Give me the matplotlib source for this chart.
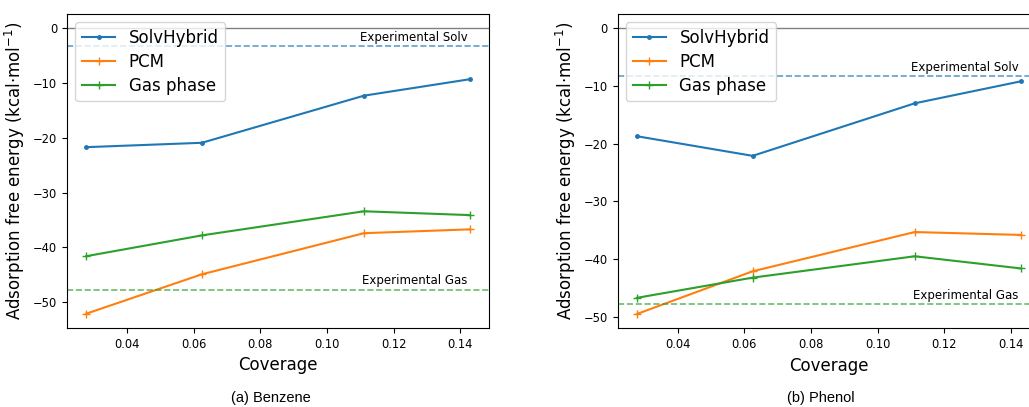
import matplotlib
matplotlib.use("Agg")
import matplotlib.pyplot as plt

# coverage (1/36, 1/16, 1/9, 1/7)
coverage = [1 / 36, 1 / 16, 1 / 9, 1 / 7]

benzene_solvhybrid = [-21.7, -20.9, -12.3, -9.3]
benzene_pcm = [-52.1, -44.9, -37.4, -36.7]
benzene_gas = [-41.6, -37.8, -33.4, -34.1]
benzene_exp_solv = -3.3
benzene_exp_gas = -47.7

phenol_solvhybrid = [-18.7, -22.1, -13.0, -9.2]
phenol_pcm = [-49.5, -42.1, -35.3, -35.8]
phenol_gas = [-46.7, -43.2, -39.5, -41.6]
phenol_exp_solv = -8.3
phenol_exp_gas = -47.8

captions = ["(a) Benzene", "(b) Phenol"]

fig = plt.figure(figsize=(10.29, 4.07), dpi=100)
ax_a = fig.add_axes([0.0651, 0.1941, 0.4101, 0.7715])
ax_b = fig.add_axes([0.6003, 0.1934, 0.4101, 0.7722])


def draw(ax, solv, pcm, gas, exp_solv, exp_gas):
    ax.axhline(0, color="grey", lw=1)
    ax.plot(coverage, solv, marker=".", ms=5, color="C0", lw=1.5, label="SolvHybrid")
    ax.plot(coverage, pcm, marker="+", ms=6, color="C1", lw=1.5, label="PCM")
    ax.plot(coverage, gas, marker="+", ms=6, color="C2", lw=1.5, label="Gas phase")
    ax.axhline(exp_solv, color="C0", ls="--", lw=1.2, alpha=0.7)
    ax.axhline(exp_gas, color="C2", ls="--", lw=1.2, alpha=0.7)
    ax.text(coverage[-1] - 0.0006, exp_solv + 0.4, "Experimental Solv",
            ha="right", va="bottom", fontsize=8.5)
    ax.text(coverage[-1] - 0.0006, exp_gas + 0.4, "Experimental Gas",
            ha="right", va="bottom", fontsize=8.5)
    ax.set_xlabel("Coverage", fontsize=12)
    ax.set_ylabel(r"Adsorption free energy (kcal$\cdot$mol$^{-1}$)", fontsize=12)
    ax.tick_params(labelsize=8.3)
    ax.legend(loc="upper left", fontsize=12, labelspacing=0.35)


draw(ax_a, benzene_solvhybrid, benzene_pcm, benzene_gas,
     benzene_exp_solv, benzene_exp_gas)
draw(ax_b, phenol_solvhybrid, phenol_pcm, phenol_gas,
     phenol_exp_solv, phenol_exp_gas)

fig.text(271 / 1029, 1 - 398 / 407, captions[0], ha="center", va="center",
         fontsize=10.5, family="Liberation Sans")
fig.text(821 / 1029, 1 - 398 / 407, captions[1], ha="center", va="center",
         fontsize=10.5, family="Liberation Sans")

fig.savefig("out.png", dpi=100)
